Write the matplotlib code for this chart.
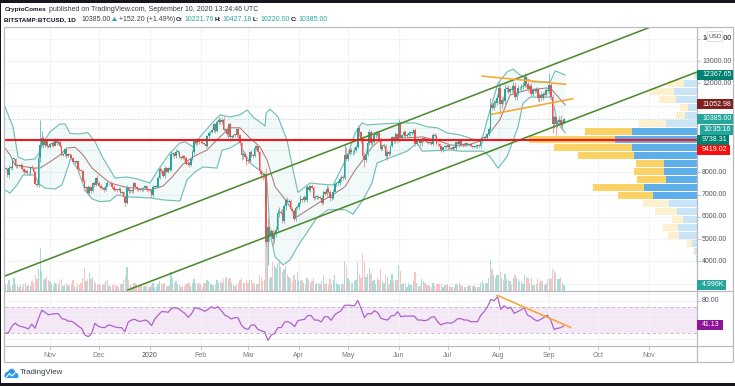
import numpy as np
import matplotlib
matplotlib.use("Agg")
import matplotlib.pyplot as plt
from matplotlib.patches import Rectangle, Polygon

# ---------- DATA ----------
# daily closes from 5 Oct 2019 to 10 Sep 2020; day 0 = 1 Nov 2019
first_day = -27
prev_close = 8150
closes = [
 8150,7870,8200,8190,8590,8590,8270,8300,8280,8350,8160,8000,8080,7950,7950,8220,8210,8020,7470,7430,8660,9240,9550,9220,9430,9170,9150,
 9250,9310,9200,9410,9310,9350,9200,8780,8810,9040,8730,8810,8760,8640,8460,8480,8500,8170,8120,8080,7620,7280,7320,7050,7320,7170,7510,7430,7740,7540,
 7400,7300,7300,7200,7400,7530,7500,7520,7340,7220,7200,7190,7260,7080,7120,6880,6620,7280,7150,7190,7150,7510,7320,7250,7200,7190,7250,7300,7380,7220,7190,
 7200,6960,7340,7350,7350,7760,8150,8050,7820,8200,8020,8180,8110,8810,8820,8720,8900,8900,8700,8630,8730,8660,8390,8430,8330,8600,8900,9390,9300,9500,9340,
 9380,9330,9290,9180,9610,9770,9810,9900,10160,9860,10270,10350,10240,10370,9900,9930,9700,10170,9600,9600,9680,9670,9960,9660,9310,8780,8810,8710,8530,
 8520,8910,8760,8750,9070,9160,8900,8040,7930,7890,7940,4860,5560,5170,5350,5010,5220,5400,6180,6200,6190,5810,6490,6770,6680,6730,6370,6250,5880,6400,6420,
 6640,6800,6740,6870,6770,7340,7200,7370,7300,6860,6890,6910,6860,6860,6620,7110,7040,7260,7130,6840,6850,7130,7490,7510,7540,7690,7780,7760,8780,8620,
 8830,8980,8890,8890,9020,9150,9990,9800,9540,8730,8570,8820,9310,9800,9320,9380,9670,9720,9780,9510,9060,9170,9180,8720,8900,8840,9200,9580,9430,9700,9450,
 10200,9520,9670,9790,9620,9670,9750,9780,9780,9890,9270,9470,9470,9330,9430,9520,9460,9380,9300,9360,9290,9690,9620,9290,9250,9160,9010,9120,9190,9140,
 9230,9090,9060,9130,9070,9350,9250,9430,9240,9290,9240,9300,9240,9260,9190,9130,9150,9170,9210,9160,9390,9530,9600,9540,9700,9930,11040,10910,11100,11110,11350,
 11800,11070,11230,11190,11750,11770,11600,11760,11680,11880,11400,11570,11780,11770,11850,11900,12290,11960,11740,11860,11520,11680,11650,11750,11330,11460,11320,11530,11470,11710,11650,
 11920,11400,10170,10470,10170,10250,10370,10130,10230,10385]
wick_up = [
 80,60,130,90,60,70,60,60,60,60,40,40,60,50,60,60,100,20,20,80,100,1110,320,80,60,60,60,
 60,60,200,110,110,100,50,20,70,40,50,70,60,80,40,50,40,20,50,40,30,80,50,90,50,50,40,100,40,130,
 50,60,60,50,40,80,60,90,60,70,50,40,60,60,50,40,50,140,50,40,50,60,70,60,50,40,50,60,70,60,50,
 30,50,70,50,60,70,90,60,50,80,60,50,90,150,80,70,130,120,60,40,50,60,70,60,80,60,90,70,100,60,90,
 60,70,50,60,80,70,60,110,50,70,80,140,80,90,140,60,90,60,90,70,50,60,40,70,80,60,90,100,60,
 70,50,90,60,100,50,60,40,110,70,60,270,390,340,90,80,140,180,160,220,130,170,100,60,130,90,80,60,110,100,90,
 40,190,60,100,60,80,100,60,90,70,70,80,60,80,100,90,60,170,110,70,90,100,60,60,130,90,90,90,480,340,
 110,100,90,130,100,90,120,120,60,80,190,170,130,130,80,130,130,130,80,60,80,120,100,110,90,70,40,60,50,110,40,
 190,80,60,90,90,80,120,30,50,60,110,80,90,60,120,30,70,40,30,30,40,70,60,80,60,60,40,30,40,50,
 70,50,60,60,50,40,110,50,70,40,50,40,60,50,40,50,50,40,40,40,50,60,50,90,50,100,280,250,140,150,150,
 240,120,160,180,230,130,150,90,150,210,180,140,160,80,100,140,180,90,140,100,170,110,50,70,70,100,130,70,80,100,70,
 550,90,120,90,70,120,140,200,120,42]
wick_dn = [
 60,60,120,40,80,50,60,60,40,50,60,70,40,60,60,60,80,60,60,70,80,210,60,110,100,70,60,
 50,60,70,40,70,60,70,60,50,90,80,50,60,40,70,60,50,60,60,40,70,130,150,80,110,90,60,90,40,70,
 70,60,40,90,60,60,50,60,70,60,50,60,50,70,70,110,120,60,70,60,60,90,50,70,60,50,60,70,50,60,70,
 60,100,50,60,50,40,70,80,50,60,70,60,50,60,80,90,60,70,60,70,50,90,70,80,80,60,60,60,80,70,60,
 40,70,60,90,60,70,80,60,100,90,40,80,90,60,100,90,60,150,200,60,70,90,70,100,80,220,160,70,180,
 90,60,70,100,60,80,80,60,210,230,90,200,1010,260,110,370,190,110,100,170,70,90,110,200,120,80,60,90,70,90,60,
 90,50,80,60,70,90,60,90,60,100,70,70,60,70,80,60,100,90,50,110,100,60,60,90,60,100,70,90,120,120,
 130,60,70,90,80,130,60,160,230,80,350,110,90,90,110,120,80,120,70,140,120,60,90,100,150,90,70,70,100,110,120,
 90,130,70,80,60,50,60,120,100,70,80,50,60,170,130,80,100,80,40,30,60,110,60,70,110,60,110,100,50,70,
 80,60,40,50,60,70,60,100,50,90,50,40,50,60,70,50,60,40,70,50,80,70,90,60,90,60,180,100,100,170,90,
 110,450,200,100,140,120,80,120,100,130,150,130,100,90,110,100,60,130,120,130,100,90,70,50,120,190,130,90,120,100,70,
 150,50,420,190,480,120,140,190,230,13]
volumes = [
 5,6,9,4,5,11,6,4,3,5,4,6,7,4,5,4,8,6,13,10,18,36,17,9,10,12,9,
 8,6,4,7,6,5,8,10,4,5,7,5,4,6,9,4,3,6,5,7,11,19,8,10,15,10,12,8,7,5,
 6,5,5,6,8,9,4,4,5,6,5,4,3,6,6,9,13,20,9,5,3,7,7,6,4,5,4,3,4,5,3,
 3,5,7,3,3,6,8,6,6,7,4,4,5,16,11,7,8,6,6,3,4,4,6,7,7,4,7,10,7,6,7,
 6,3,7,7,9,8,7,5,5,6,9,7,8,7,10,11,12,10,11,7,5,4,5,7,9,11,7,7,9,
 7,9,9,7,6,6,6,13,12,8,9,48,44,10,12,24,22,19,23,24,20,16,18,21,14,12,10,8,13,9,16,
 8,8,9,7,6,11,9,7,8,11,6,7,7,6,8,13,6,7,5,10,6,9,13,7,6,5,6,6,25,22,
 11,8,7,7,8,9,23,14,11,32,24,12,14,19,14,8,9,6,11,9,18,8,7,13,12,6,9,14,8,9,9,
 22,17,6,7,7,3,7,5,5,8,16,7,4,4,10,8,7,5,5,4,3,7,4,6,6,6,6,3,5,5,
 6,4,3,3,3,6,5,7,5,4,3,3,4,4,5,4,4,3,3,3,7,8,6,7,7,11,26,18,13,11,13,
 13,16,11,9,14,10,9,8,6,11,13,11,10,8,8,6,13,12,11,7,11,5,5,6,10,7,8,8,5,6,10,
 11,10,18,17,15,10,10,12,7,5]

bb_up_days = [-27.5,-22.6,-19.5,-15.3,-9.2,-6.1,-4.9,0,6.1,9.2,12.2,17.1,23.2,27.5,32.4,39.7,47,53.2,61.1,66,73.3,79.4,82.5,87.4,91.6,99.6,103.9,110,116,120.4,124,131.4,132,134.4,139.3,144.8,148.5,151.5,158.9,165,172.9,175.4,181.5,186.4,190.6,193.7,201.6,213.9,223,231,236.5,242.6,250.5,262.7,264.6,268.8,273.7,279.2,282.9,287.2,295.1,305.5,308.6,314.7]
bb_up = [10950,10050,8690,8550,8600,8930,9230,9820,10170,10170,9750,9720,9780,9375,8640,7740,7790,7700,7520,8100,8870,9320,9370,9140,9590,10260,10580,10490,10580,10800,10490,10080,10660,10840,10490,9440,8100,7100,7520,7470,7430,7790,8690,9770,10220,10130,10170,10220,10220,10040,10000,9770,9680,9390,9680,10800,12000,12510,12640,12370,12060,12060,12560,12370]
bb_lo_days = [-27.5,-24.4,-20.2,-16.5,-9.2,-7.3,-3.1,3.1,7.3,11,12.8,17.1,21.4,25.7,30.6,36.7,40.9,48.9,61.1,69,79.4,83.7,88.6,93.5,102,105.1,110,116,117.9,122.2,130.1,132.6,134.4,137.5,142.4,146.6,151.5,153.9,163.1,169.9,180.2,185.1,191.2,196.7,199.8,207.7,218.1,224.2,227.3,244.4,250.5,264.6,268.8,273.7,279.2,285.9,289,293.3,305.5,307.3,309.8,314.7]
bb_lo = [7200,7070,7430,7880,7880,7520,7290,7250,7430,8240,8650,8100,7200,6800,6680,6720,6980,6890,6850,6760,6710,7660,8020,8240,8190,9000,9090,9360,9000,8420,7970,7520,5280,4200,3840,4060,4700,4960,5960,6320,6320,6120,6760,7520,8420,8650,8950,9320,8950,9000,8950,8950,8700,8190,8700,10040,11110,11380,11380,11170,10260,9770]
bb_mid_days = [-27.5,-24.4,-21.4,-10.4,-6.1,0,6.1,10.4,15.3,20.2,25.7,30.6,36.7,45.8,61.1,69,74.5,81.3,87.4,95.9,103.9,110,116,122.2,128.3,132.6,137.5,142.4,150.9,152.8,165,172.9,180.2,186.4,191.2,196.7,201.6,213.9,227.9,238.3,244.4,253.6,264.6,270,274.9,281,291.4,303.6,306.7,314.7]
bb_mid = [9090,8780,8330,8190,8190,8470,8780,9090,9130,8780,8190,7880,7520,7340,7200,7380,7780,8370,8700,9000,9600,10000,10000,9540,9140,8550,7350,6900,6000,6090,6670,7000,7350,8100,8550,9140,9450,9540,9590,9390,9230,9190,9450,9900,10370,11470,11700,11790,11700,11030]

rsi_vals = [29,30,40,45,41,39.4,38,36,43.5,37,52,65,61.8,58,59,59.7,59.7,52,51,48,47.7,44.6,40,36.8,26.4,23.8,29,44.6,40,38.3,38,42,41,39,38,38,31.6,46.7,49.8,51,48,48,49.8,47.7,41,51.4,57.6,62.8,62.8,61.8,68,69,68,63.9,60.2,54,59.2,69,68,66,63.4,66.5,70.6,68,70.6,64.4,57.6,55,51.4,53.5,53.5,42,36.8,35.2,42,42,35,33,31.6,18,26.4,29,38,38,46.7,47.2,
 44.6,39.4,48.8,50,50.8,57,56.6,49.8,49.8,46.7,55,55,49.3,57.6,61.3,64.4,72.7,73,72.7,71.7,80.5,68,53.5,60,59.2,64.4,61.3,52.4,50.8,49.8,56,57,62.8,55,56,56,56,56,49.8,49.8,48.8,49.8,54,55,47.2,42,44.6,45.6,44.6,47.2,51.9,51.9,49.8,49.8,47.2,47.2,47.2,57.6,62.8,70.6,82,80,86,66.5,72.2,68,69.6,60.2,62.8,65.4,69,57.6,55,50.8,48.2,50.8,54,57.6,49.8,35.2,36.8,37.8,41]
rsi_first_day, rsi_last_day = -27.4, 314

channel_days = [[-27.5, 365.3], [47.6, 395.2]]
channel_prices = [[3340, 14485], [2711, 12508]]
wedge_days = [[263.9, 315], [269.8, 319.3]]
wedge_prices = [[12325, 11955], [10607, 11308]]
support_price = 9430
last_price = 10385
rsi_trend_days = [273.2, 317.9]
rsi_trend_vals = [88.4, 38.4]

vp_prices = [12350,11990,11630,11270,10910,10550,10190,9830,9470,9110,8750,8390,8030,7670,7310,6950,6590,6230,5870,5510,5150,4790,4430,4070]
vp_blue = [2,13,23,21,9,12,31,65,82,65,63,33,33,31,53,44,28,20,14,19,18,5,2,1.5]
vp_yellow = [2,16,25,17,8,9,27,47,86,78,56,28,30,29,51,35,26,22,11,15,11,5,2,0]
vp_in_value_area = [0,0,0,0,0,0,0,1,1,1,1,1,1,1,1,1,0,0,0,0,0,0,0,0]

price_ticks = [4000,5000,6000,7000,8000,9000,10000,11000,12000,13000,14000]
price_labels = ["4000.00","5000.00","6000.00","7000.00","8000.00",None,None,None,"12000.00","13000.00","14000.00"]
month_days = [0,30,61,92,121,152,182,213,243,274,305,335,366]
month_labels = ["Nov","Dec","2020","Feb","Mar","Apr","May","Jun","Jul","Aug","Sep","Oct","Nov"]

# ---------- LAYOUT ----------
W, H = 735, 386
L, R, T, M, B, AX = 4.5, 697, 27, 291, 346.3, 362.3
XMIN, XMAX = (L-50)/1.637, (R-50)/1.637
PXK = 0.02225
PMAX = 12000+(83.3-T)/PXK
PMIN = 12000-(M-83.3)/PXK
RMAX = 80+(300.7-M)/0.64
RMIN = 80-(B-300.7)/0.64
FONT = "Liberation Sans"
plt.rcParams["font.family"] = [FONT, "DejaVu Sans"]
TXT = "#50535E"
UP, DN = "#26A69A", "#EF5350"
GRID = "#F2F3F7"

fig = plt.figure(figsize=(W/100, H/100), dpi=100, facecolor="white")
def rect(x0, y0, x1, y1):
    return [x0/W, 1-y1/H, (x1-x0)/W, (y1-y0)/H]

bg = fig.add_axes(rect(L, T, R, M), zorder=1)
vol = fig.add_axes(rect(L, T, R, M), zorder=2, facecolor="none")
prof = fig.add_axes(rect(L, T, R, M), zorder=3, facecolor="none")
ax = fig.add_axes(rect(L, T, R, M), zorder=4, facecolor="none")
rs = fig.add_axes(rect(L, M, R, B), zorder=4, facecolor="white")
ov = fig.add_axes([0, 0, 1, 1], zorder=10, facecolor="none")
ov.set_xlim(0, W); ov.set_ylim(H, 0); ov.axis("off")
for a in (bg, vol, prof, ax, rs):
    a.set_xticks([]); a.set_yticks([])
    for s in a.spines.values():
        s.set_visible(False)

# grid
bg.set_xlim(XMIN, XMAX); bg.set_ylim(PMIN, PMAX)
bg.vlines(month_days, PMIN, PMAX, color=GRID, lw=0.8)
bg.hlines(price_ticks+[3000], XMIN, XMAX, color=GRID, lw=0.8)

# volume
days = np.arange(first_day, first_day+len(closes))
c = np.array(closes, float)
o = np.r_[prev_close, c[:-1]]
is_up = c >= o
vol.set_xlim(XMIN, XMAX)
vol.set_ylim(0, (M-T)/1.2)
vol.bar(days, volumes, width=0.8, color=np.where(is_up, "#A8DCD7", "#FBC3C1"), lw=0)

# volume profile
prof.set_xlim(R-L, 0); prof.set_ylim(PMIN, PMAX)
for p, b, y, va in zip(vp_prices, vp_blue, vp_yellow, vp_in_value_area):
    cb = "#5DAEE9" if va else "#C9E4F7"
    cy = "#FBD266" if va else "#FDF0CF"
    prof.barh(p, b, height=328, color=cb, lw=0)
    prof.barh(p, y, left=b, height=328, color=cy, lw=0)

# Bollinger
ax.set_xlim(XMIN, XMAX); ax.set_ylim(PMIN, PMAX)
grid_d = np.arange(-27.5, 314.8, 0.5)
ax.fill_between(grid_d, np.interp(grid_d, bb_up_days, bb_up), np.interp(grid_d, bb_lo_days, bb_lo),
                color="#26A69A", alpha=0.06, lw=0, zorder=1)
ax.plot(bb_up_days, bb_up, color="#74BFB8", lw=0.85, zorder=2)
ax.plot(bb_lo_days, bb_lo, color="#74BFB8", lw=0.85, zorder=2)
ax.plot(bb_mid_days, bb_mid, color="#AD7A78", lw=0.75, zorder=2)

# candles
top = np.maximum(o, c); bot = np.minimum(o, c)
hi = top+np.array(wick_up); lo = bot-np.array(wick_dn)
cols = np.where(is_up, UP, DN)
ax.vlines(days, lo, hi, colors=np.where(is_up, "#6FC4BC", "#F59A98"), lw=0.7, zorder=3)
ax.bar(days, np.maximum(top-bot, 40), bottom=bot, width=1.0, color=cols, lw=0, zorder=4)

# drawings
ax.axhline(last_price, color="#26A69A", lw=0.6, ls=(0, (1, 2)), alpha=0.55, zorder=3)
ax.plot([XMIN, XMAX], [support_price]*2, color="#F5151C", lw=1.5, zorder=6)
for d, p in zip(channel_days, channel_prices):
    ax.plot(d, p, color="#4E8A2E", lw=1.15, zorder=5)
for d, p in zip(wedge_days, wedge_prices):
    ax.plot(d, p, color="#F7A631", lw=1.15, zorder=5)

# RSI
rs.set_xlim(XMIN, XMAX); rs.set_ylim(RMIN, RMAX)
rs.vlines(month_days, RMIN, RMAX, color=GRID, lw=0.8)
rs.hlines([20, 40, 60, 80, 90], XMIN, XMAX, color=GRID, lw=0.8)
rs.axhspan(30, 70, color="#9C27B0", alpha=0.11, lw=0)
rs.hlines([30, 70], XMIN, XMAX, color="#C4B8CC", lw=0.7, linestyles=(0, (3, 3)))
rs.plot(np.linspace(rsi_first_day, rsi_last_day, len(rsi_vals)), rsi_vals, color="#AE62CC", lw=0.9)
rs.plot(rsi_trend_days, rsi_trend_vals, color="#F7A631", lw=1.15)

# chrome
FR = "#B9BBC3"
for xs, ys in [([L, L], [T, AX]), ([L, 733], [T, T]), ([733, 733], [T, AX]), ([L, 733], [AX, AX]),
               ([L, 733], [M, M]), ([L, 733], [B, B]), ([R, R], [T, AX])]:
    ov.plot(xs, ys, color=FR, lw=0.9, solid_capstyle="butt")
ov.add_patch(Rectangle((0, 0), W, 3, color="#15171C", lw=0))
ov.add_patch(Rectangle((0, 383), W, 3, color="#15171C", lw=0))
ov.add_patch(Rectangle((0, 0), 1, H, color="#15171C", lw=0))

FS = 5.0
HS = 5.0
BS = 4.6
def pt(x, y, s, color=TXT, weight="normal", size=FS, ha="left"):
    ov.text(x, y, s, color=color, fontweight=weight, fontsize=size, ha=ha, va="center")

# headers
pt(4.3, 9.6, "CryptoComes", "#131722", "bold", BS)
pt(49.3, 9.6, "published on TradingView.com, September 10, 2020 13:24:46 UTC", "#3A3D47", size=HS)
Y2 = 19.3
pt(4.3, Y2, "BITSTAMP:BTCUSD, 1D", "#131722", "bold", BS)
pt(81, Y2, "10385.00", "#3A3D47", size=HS)
ov.add_patch(Polygon([[112, 21], [117, 21], [114.5, 17]], color=UP, lw=0))
pt(119.5, Y2, "+152.20 (+1.49%)", "#3A3D47", size=HS)
for xk, k, xv, v in [(175.7, "O:", 184, "10221.76"), (215, "H:", 222.7, "10427.18"),
                     (253, "L:", 260.7, "10220.00"), (291, "C:", 298.3, "10385.00")]:
    pt(xk, Y2, k, "#131722", "bold", BS)
    pt(xv, Y2, v, UP, size=HS)

# axis labels
for p, s in zip(price_ticks, price_labels):
    if s:
        y = 83.3+(12000-p)*PXK
        ov.plot([R, R+3], [y, y], color=FR, lw=0.6)
        pt(702, y, s)
ov.plot([R, R+3], [300.7, 300.7], color=FR, lw=0.6)
pt(702, 300.7, "80.00")
for d, s in zip(month_days, month_labels):
    x = 50+d*1.637
    ov.plot([x, x], [B, B+2.5], color=FR, lw=0.6)
    pt(x, 355.3, s, "#787B86" if s != "2020" else TXT, ha="center")

# price badges
for y0, y1, xe, col, s, tx in [
    (69.5, 79.5, 733, "#00806F", "12367.65", 702),
    (99, 109, 733, "#80201F", "11052.98", 702),
    (113.5, 123.5, 733, "#26A69A", "10385.00", 702),
    (124.5, 134.5, 733, "#26A69A", "10:35:16", 703.5),
    (134.5, 144.5, 729, "#00806F", "9738.31", 702),
    (144.5, 154.5, 730, "#F50F0F", "9419.02", 702),
    (280, 290, 726, "#26A69A", "4.996K", 702),
    (320, 330, 723, "#8E1599", "41.13", 702)]:
    x0 = R+(3.5 if s == "10:35:16" else 0.5)
    ov.add_patch(Rectangle((x0, y0), xe-x0, y1-y0, color=col, lw=0, zorder=5))
    ov.text(tx, (y0+y1)/2, s, color="white", fontsize=FS, ha="left", va="center", zorder=6)

# USD box
pt(702, 38.5, "14000.00")
ov.add_patch(plt.Rectangle((707, 31), 15.5, 10, fc="white", ec="#D6D8DE", lw=0.6, zorder=8))
ov.text(714.7, 36, "USD", color=TXT, fontsize=4.6, ha="center", va="center", zorder=9)

# TradingView logo
LOGO = "#2E9BEA"
ov.add_patch(Polygon([[4.2, 376], [5.5, 372.5], [8, 371.5], [9.5, 369.5], [12, 368.5], [14.5, 370], [15.5, 372.5], [18, 374], [18.7, 376.5], [17.5, 378], [5.5, 378]], color=LOGO, lw=0))
ov.plot([6.5, 9.5, 12, 15], [377, 373.5, 376, 373], color="white", lw=0.8)
pt(20, 372.5, "TradingView", "#3A3D47", size=5.7)

assert len(closes) == len(wick_up) == len(wick_dn) == len(volumes), (len(closes), len(wick_up), len(wick_dn), len(volumes))
fig.savefig("out.png", dpi=100, facecolor="white")
